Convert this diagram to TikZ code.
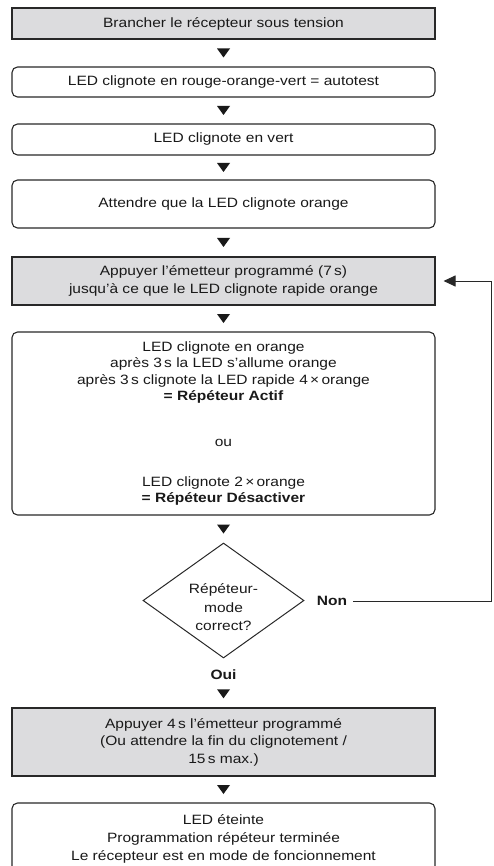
\documentclass[tikz,border=0pt]{standalone}
\usepackage{fontspec}
\setmainfont{Liberation Sans}[FakeStretch=1.15]
\usetikzlibrary{shapes.geometric,arrows.meta,calc}

\definecolor{ink}{RGB}{40,40,40}
\definecolor{txt}{RGB}{25,25,25}
\definecolor{panel}{RGB}{220,220,222}

\tikzset{
  flowfont/.style={font=\fontsize{13.5pt}{17.5pt}\selectfont, text=txt},
  basebox/.style={draw=ink, line width=1.1pt, minimum width=423pt,
    align=center, inner sep=2pt, flowfont},
  gbox/.style={basebox, rectangle, fill=panel},
  rbox/.style={basebox, rectangle, rounded corners=5.5pt, fill=white},
  dia/.style={diamond, draw=ink, line width=1pt, minimum width=161pt,
    minimum height=115pt, inner sep=0pt},
  diatext/.style={inner sep=0pt, align=center,
    font=\fontsize{13.5pt}{18.5pt}\selectfont, text=txt},
  lbl/.style={inner sep=0pt, font=\fontsize{13.5pt}{17.5pt}\selectfont\bfseries, text=txt},
  loopline/.style={draw=ink, line width=1pt,
    -{Triangle[length=12pt,width=11pt]}, shorten >=8pt},
  downtri/.pic={\fill[txt] (-6.5,4.5) -- (6.5,4.5) -- (0,-4.5) -- cycle;}
}

\begin{document}
\begin{tikzpicture}[x=1pt,y=1pt]
\useasboundingbox (0,0) rectangle (493,-866);
\clip (0,0) rectangle (493,-866);

% process steps
\node[gbox, minimum height=31pt] (b1) at (223.5,-23.5)
  {Brancher le récepteur sous tension};
\node[rbox, minimum height=30pt] (b2) at (223.5,-82)
  {LED clignote en rouge-orange-vert = autotest};
\node[rbox, minimum height=31pt] (b3) at (223.5,-139.5)
  {LED clignote en vert};
\node[rbox, minimum height=48pt] (b4) at (223.5,-204)
  {Attendre que la LED clignote orange};
\node[gbox, minimum height=48pt] (b5) at (223.5,-281)
  {Appuyer l’émetteur programmé (7\,s)\\jusqu’à ce que le LED clignote rapide orange};
\node[rbox, minimum height=183pt, font=\fontsize{13.5pt}{16.3pt}\selectfont] (b6) at (223.5,-423.5)
  {LED clignote en orange\\
   après 3\,s la LED s’allume orange\\
   après 3\,s clignote la LED rapide 4\,×\,orange\\
   \textbf{= Répéteur Actif}\\[30pt]
   ou\\[23pt]
   LED clignote 2\,×\,orange\\
   \textbf{= Répéteur Désactiver}};

% decision
\node[dia] (d) at (223.5,-600.5) {};
\node[diatext] (dq) at ($(d.center)+(0,-7)$) {Répéteur-\\mode\\correct?};
\node[lbl] (non) at (332,-601) {Non};
\node[lbl] (oui) at (223.5,-675) {Oui};

\node[gbox, minimum height=68pt] (b7) at (223.5,-742)
  {Appuyer 4\,s l’émetteur programmé\\(Ou attendre la fin du clignotement /\\15\,s max.)};
\node[rbox, minimum height=72pt, font=\fontsize{13.5pt}{18pt}\selectfont] (b8) at (223.5,-839)
  {LED éteinte\\Programmation répéteur terminée\\Le récepteur est en mode de foncionnement};

% step markers between boxes
\foreach \a/\b in {b1/b2,b2/b3,b3/b4,b4/b5,b5/b6,b6/d,oui/b7,b7/b8}
  \pic at ($(\a.south)!.5!(\b.north)$) {downtri};

% loop back on "Non"
\coordinate (turn) at (491,-601);
\draw[loopline] ($(non.east)+(6,0)$) -- (turn) |- (b5.east);
\end{tikzpicture}
\end{document}
